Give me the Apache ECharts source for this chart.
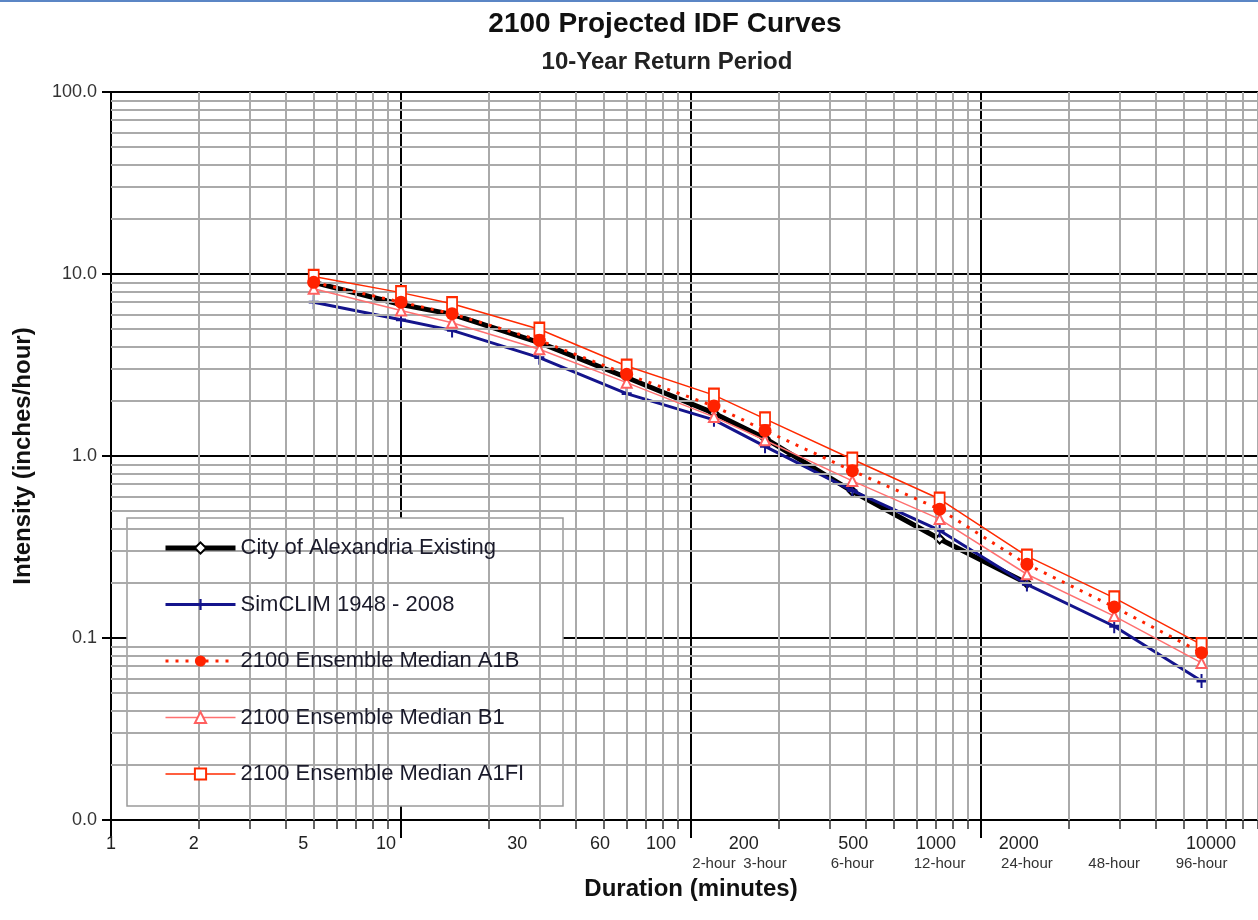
<!DOCTYPE html>
<html><head><meta charset="utf-8">
<script src="https://cdn.jsdelivr.net/npm/echarts@6/dist/echarts.min.js"></script>
<style>html,body{margin:0;padding:0;background:#fff}#chart{width:1258px;height:920px}</style>
</head><body><div id="chart"></div>
<script>
// ---- data (durations in minutes, intensities in inches/hour) ----
const durations = [5, 10, 15, 30, 60, 120, 180, 360, 720, 1440, 2880, 5760];
const cityExisting = [9.0, 6.8, 6.0, 4.2, 2.7, 1.72, 1.25, 0.64, 0.35, 0.20];
const simClim = [7.0, 5.6, 4.9, 3.47, 2.2, 1.58, 1.13, 0.645, 0.39, 0.197, 0.116, 0.058];
const medianA1B = [9.0, 7.0, 6.05, 4.32, 2.81, 1.88, 1.38, 0.83, 0.51, 0.254, 0.148, 0.083];
const medianB1 = [8.3, 6.3, 5.4, 3.86, 2.53, 1.64, 1.22, 0.73, 0.45, 0.224, 0.132, 0.073];
const medianA1FI = [9.7, 7.9, 6.87, 4.97, 3.12, 2.16, 1.6, 0.96, 0.58, 0.282, 0.166, 0.092];
const seriesNames = ['City of Alexandria Existing', 'SimCLIM 1948 - 2008',
  '2100 Ensemble Median A1B', '2100 Ensemble Median B1', '2100 Ensemble Median A1FI'];
const xTickLabels = [1, 2, 5, 10, 30, 60, 100, 200, 500, 1000, 2000, 10000];
const hourTickMinutes = [120, 180, 360, 720, 1440, 2880, 5760];
const hourTickLabels = ['2-hour', '3-hour', '6-hour', '12-hour', '24-hour', '48-hour', '96-hour'];
const xDecades = [1, 10, 100, 1000];
const yDecades = [0.01, 0.1, 1, 10];
const minorSteps = [2, 3, 4, 5, 6, 7, 8, 9];

const FONT = '"Liberation Sans", Arial, sans-serif';
const xMinorGrid = [];
xDecades.forEach(d => minorSteps.forEach(k => xMinorGrid.push(k * d)));
const yMinorGrid = [];
yDecades.forEach(d => minorSteps.forEach(k => yMinorGrid.push(+(k * d).toPrecision(3))));
const pairs = vals => vals.map((v, i) => [durations[i], v]);
const lg = Math.log10;

const chart = echarts.init(document.getElementById('chart'));
chart.setOption({
  animation: false,
  backgroundColor: '#fff',
  grid: { left: 111, top: 92, width: 1160, height: 728, containLabel: false, outerBoundsMode: 'none' },
  xAxis: [
    { type: 'log', logBase: 10, min: 1, max: 10000, gridIndex: 0, position: 'bottom',
      name: 'Duration (minutes)', nameLocation: 'middle', nameGap: 57,
      nameTextStyle: { fontFamily: FONT, fontSize: 24, fontWeight: 'bold', color: '#111' },
      axisLine: { lineStyle: { color: '#000', width: 2 } },
      axisTick: { show: true, length: 18, lineStyle: { color: '#000', width: 2 } },
      axisLabel: { show: false },
      splitLine: { show: true, lineStyle: { color: '#000', width: 2 } } },
    { type: 'value', min: 0, max: 4, gridIndex: 0, position: 'bottom',
      axisLine: { show: false },
      axisTick: { show: true, length: 9, customValues: xMinorGrid.map(lg),
        lineStyle: { color: '#333', width: 1.5 } },
      axisLabel: { show: true, margin: 36, fontFamily: FONT, fontSize: 15, color: '#333',
        customValues: hourTickMinutes.map(lg),
        formatter: v => { const i = hourTickMinutes.findIndex(m => Math.abs(lg(m) - v) < 1e-6); return i >= 0 ? hourTickLabels[i] : ''; } },
      splitLine: { show: false } },
    { type: 'value', min: 0, max: 4.218, gridIndex: 0, position: 'bottom',
      axisLine: { show: false }, axisTick: { show: false },
      axisLabel: { show: true, margin: 15, fontFamily: FONT, fontSize: 18, color: '#222',
        customValues: xTickLabels.map(lg),
        formatter: v => String(Math.round(Math.pow(10, v))) },
      splitLine: { show: false } }
  ],
  yAxis: [{
    type: 'log', logBase: 10, min: 0.01, max: 100,
    name: 'Intensity (inches/hour)', nameLocation: 'middle', nameGap: 76,
    nameTextStyle: { fontFamily: FONT, fontSize: 24, fontWeight: 'bold', color: '#111' },
    axisLine: { show: true, lineStyle: { color: '#000', width: 2 } },
    axisTick: { show: true, length: 9, lineStyle: { color: '#000', width: 2 } },
    axisLabel: { margin: 14, fontFamily: FONT, fontSize: 18, color: '#333',
      formatter: v => Number(v).toFixed(1) },
    splitLine: { show: true, lineStyle: { color: '#000', width: 2 } }
  }],
  legend: {
    data: seriesNames, orient: 'vertical', left: 127, top: 518,
    padding: [19, 40, 23, 36], itemWidth: 70, itemHeight: 14, itemGap: 34.5,
    lineStyle: { width: 'inherit' },
    textStyle: { fontFamily: FONT, fontSize: 22, lineHeight: 21, color: '#1a1a2a' },
    z: 6, selectedMode: false
  },
  graphic: [
    { type: 'line', shape: { x1: 0, y1: 1, x2: 1258, y2: 1 }, style: { stroke: '#5b86c5', lineWidth: 2 } },
    { type: 'text', x: 665, y: 24, style: { text: '2100 Projected IDF Curves', fontFamily: FONT,
      fontSize: 28, fontWeight: 'bold', fill: '#111', textAlign: 'center', textVerticalAlign: 'middle' } },
    { type: 'text', x: 667, y: 62, style: { text: '10-Year Return Period', fontFamily: FONT,
      fontSize: 24, fontWeight: 'bold', fill: '#222', textAlign: 'center', textVerticalAlign: 'middle' } },
    { type: 'rect', z: 5, shape: { x: 127, y: 518, width: 436, height: 288 },
      style: { fill: '#fff', stroke: '#9a9a9a', lineWidth: 1.5 } }
  ],
  series: [
    { type: 'line', name: 'minor-grid', data: [], silent: true, z: 1,
      markLine: { silent: true, symbol: ['none', 'none'], label: { show: false },
        lineStyle: { color: '#aaaaaa', width: 2, type: 'solid' },
        emphasis: { disabled: true },
        data: xMinorGrid.map(v => ({ xAxis: v })).concat(yMinorGrid.map(v => ({ yAxis: v }))) } },
    { type: 'line', name: seriesNames[0], data: pairs(cityExisting), z: 3,
      symbol: 'emptyDiamond', symbolSize: 9,
      lineStyle: { color: '#000', width: 5 }, itemStyle: { color: '#000', borderWidth: 1.5 } },
    { type: 'line', name: seriesNames[1], data: pairs(simClim), z: 4,
      symbol: 'path://M4,0H6V4H10V6H6V10H4V6H0V4H4Z', symbolSize: [10, 14],
      lineStyle: { color: '#14148c', width: 3 }, itemStyle: { color: '#14148c' } },
    { type: 'line', name: seriesNames[2], data: pairs(medianA1B), z: 7,
      symbol: 'circle', symbolSize: 13,
      lineStyle: { color: '#ff2200', width: 3, type: [3, 7] }, itemStyle: { color: '#ff2200' } },
    { type: 'line', name: seriesNames[3], data: pairs(medianB1), z: 6,
      symbol: 'emptyTriangle', symbolSize: 10,
      lineStyle: { color: '#ff7070', width: 1.5 }, itemStyle: { color: '#ff6060', borderWidth: 1.5 } },
    { type: 'line', name: seriesNames[4], data: pairs(medianA1FI), z: 6,
      symbol: 'emptyRect', symbolSize: [10, 13],
      lineStyle: { color: '#ff2a00', width: 1.5 }, itemStyle: { color: '#ff2a00', borderWidth: 1.5 } }
  ]
});
</script></body></html>
